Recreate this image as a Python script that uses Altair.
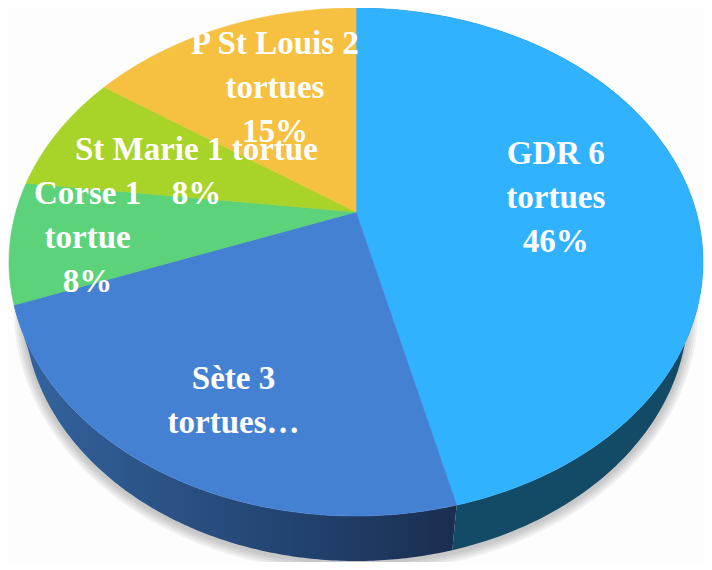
import math
import altair as alt

names = ["GDR", "Sète", "Corse", "St Marie", "P St Louis"]
values = [6, 3, 1, 1, 2]
labels = [["GDR 6", "tortues", "46%"], ["Sète 3", "tortues…"], ["Corse 1", "tortue", "8%"],
          ["St Marie 1 tortue", "8%"], ["P St Louis 2", "tortues", "15%"]]
colors = ["#30B2FF", "#4581D3", "#5CD27A", "#A8D329", "#F6C040"]
label_radius = [0.60, 0.733, 0.78, 0.52, 0.638]
label_nudge = [0.0, -0.0067, 0.0, 0.0, 0.0086]

# plot-area pixel geometry of the tilted pie
W, H = 696, 554
CX = 348
TOP = dict(cy=254, a=347, b=254)
BOTTOM = dict(cy=301, a=332, b=252)
D = 50 / 254  # perspective shift of the pie's apex
LINE_H = 44


def project(frac, r, e):
    """Share of the turn (clockwise from 12 o'clock) + radius -> tilted pixel."""
    ang = 2 * math.pi * frac
    u, v = r * math.sin(ang), r * math.cos(ang)
    w = 1 + D * v
    yy = (v + D) / w
    xx = u * math.sqrt(1 - D * D) / w
    return [CX + e["a"] * xx, e["cy"] - e["b"] * yy]


def arc(f0, f1, e, n=160):
    return [project(f0 + (f1 - f0) * i / n, 1, e) for i in range(n + 1)]


def feature(ring, name):
    return {"type": "Feature", "properties": {"name": name},
            "geometry": {"type": "Polygon", "coordinates": [ring + [ring[0]]]}}


total = sum(values)
bounds = [sum(values[:i]) / total for i in range(len(values) + 1)]

apex = project(0, 0, TOP)
slices = [feature([apex] + arc(bounds[i], bounds[i + 1], TOP), names[i]) for i in range(len(names))]
wall_gdr = feature(arc(bounds[0], bounds[1], TOP) + arc(bounds[0], bounds[1], BOTTOM)[::-1], "wall GDR")
wall_sete = feature(arc(bounds[1], bounds[2], TOP) + arc(bounds[1], bounds[2], BOTTOM)[::-1], "wall Sète")
under = feature(arc(0, 1, dict(BOTTOM, cy=BOTTOM["cy"] + 2)), "shadow")

label_rows = []
for i, lines in enumerate(labels):
    p = project((bounds[i] + bounds[i + 1]) / 2 + label_nudge[i], label_radius[i], TOP)
    for j, t in enumerate(lines):
        label_rows.append({"t": t, "lon": p[0], "lat": p[1] + (j - (len(lines) - 1) / 2) * LINE_H})

proj = dict(type="identity", scale=1, translate=[0, 0])

shadow_layers = [
    alt.Chart(alt.Data(values=[under])).mark_geoshape(
        fill="#8a8a8a", stroke="#555555", strokeWidth=sw, strokeOpacity=0.07, fillOpacity=0
    ).project(**proj)
    for sw in [20, 16, 12, 8, 4]
]

grad = alt.LinearGradient(
    gradient="linear", x1=0, x2=1, y1=0, y2=0,
    stops=[alt.GradientStop(offset=0, color="#34649F"),
           alt.GradientStop(offset=0.35, color="#2A5285"),
           alt.GradientStop(offset=0.7, color="#213F6A"),
           alt.GradientStop(offset=1, color="#1A2E4F")],
)
wall1 = alt.Chart(alt.Data(values=[wall_sete])).mark_geoshape(fill=grad).project(**proj)
wall2 = alt.Chart(alt.Data(values=[wall_gdr])).mark_geoshape(fill="#134A66").project(**proj)

scale = alt.Scale(domain=names, range=colors)
top = alt.Chart(alt.Data(values=slices)).mark_geoshape(strokeWidth=0.6).encode(
    fill=alt.Fill("properties.name:N", scale=scale, legend=None),
    stroke=alt.Stroke("properties.name:N", scale=scale, legend=None),
).project(**proj)

text = alt.Chart(alt.Data(values=label_rows)).mark_text(
    font="Liberation Serif", fontSize=33, fontWeight="bold", color="white",
    align="center", baseline="middle", dy=3,
).encode(longitude="lon:Q", latitude="lat:Q", text="t:N").project(**proj)

chart = alt.layer(*shadow_layers, wall2, wall1, top, text).properties(
    width=W, height=H, padding=0, autosize=alt.AutoSizeParams(type="none"),
    background="#FDFDFD",
).configure_view(stroke=None)

chart.save("out.html", embed_options={"renderer": "svg", "actions": False})
